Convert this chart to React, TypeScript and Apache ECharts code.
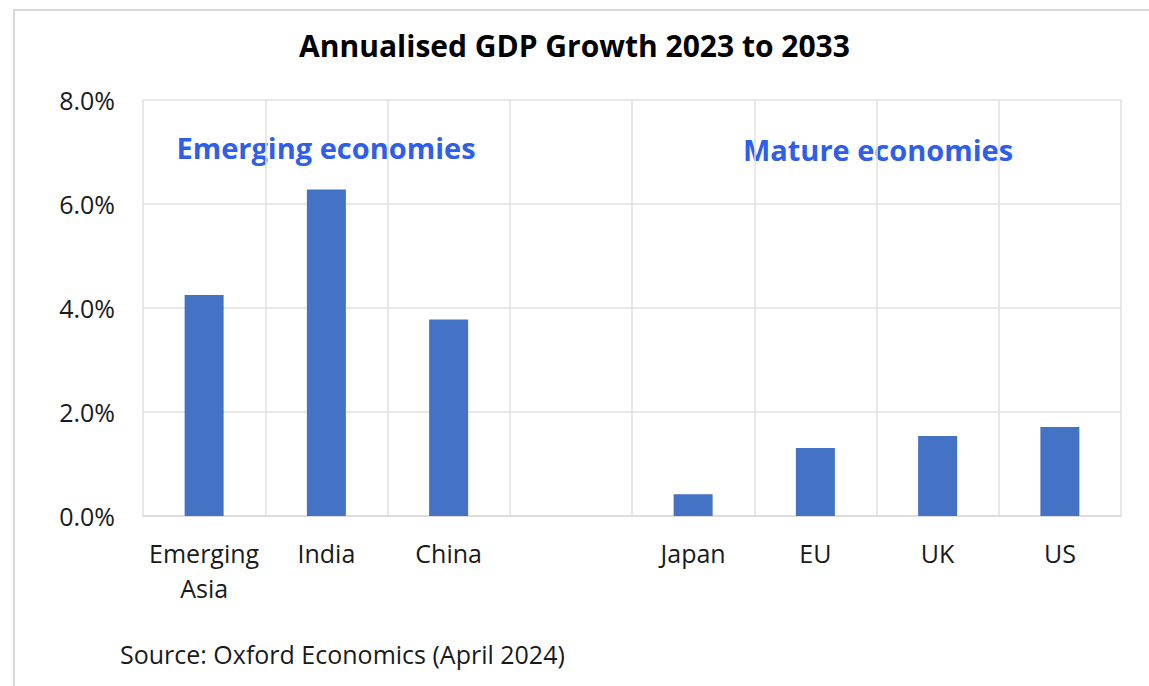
import React, { useEffect, useRef } from "react";
import * as echarts from "echarts";

const categories = ["Emerging\nAsia", "India", "China", "", "Japan", "EU", "UK", "US"];
const growth: (number | null)[] = [4.25, 6.28, 3.78, null, 0.42, 1.31, 1.54, 1.71];
const yTicks = { min: 0, max: 8, interval: 2 };
const title = "Annualised GDP Growth 2023 to 2033";
const groupLabels = ["Emerging economies", "Mature economies"];
const source = "Source: Oxford Economics (April 2024)";

const FONT = "'Open Sans', 'Noto Sans', sans-serif";

export default function App() {
  const ref = useRef<HTMLDivElement>(null);
  useEffect(() => {
    const chart = echarts.init(ref.current!, null, { renderer: "svg" });
    chart.setOption({
      animation: false,
      backgroundColor: "#ffffff",
      textStyle: { fontFamily: FONT },
      title: {
        text: title,
        left: "center",
        top: 25,
        textStyle: { fontFamily: FONT, fontSize: 30, fontWeight: "bold", color: "#000000" },
      },
      grid: { left: 143, right: 28, top: 100, bottom: 170 },
      xAxis: {
        type: "category",
        data: categories,
        axisTick: { show: false },
        axisLine: { lineStyle: { color: "#d9d9d9", width: 1.5 } },
        splitLine: { show: true, lineStyle: { color: "#e0e0e0", width: 1.5 } },
        axisLabel: {
          color: "#1a1a1a",
          fontSize: 25,
          fontFamily: FONT,
          margin: 19,
          lineHeight: 35,
          interval: 0,
        },
      },
      yAxis: {
        type: "value",
        min: yTicks.min,
        max: yTicks.max,
        interval: yTicks.interval,
        axisLine: { show: false },
        axisTick: { show: false },
        splitLine: { lineStyle: { color: "#e0e0e0", width: 1.5 } },
        axisLabel: {
          color: "#1a1a1a",
          fontSize: 25,
          fontFamily: FONT,
          margin: 28,
          formatter: (v: number) => v.toFixed(1) + "%",
        },
      },
      series: [
        {
          type: "bar",
          data: growth,
          barWidth: 39,
          itemStyle: { color: "#4472c4" },
        },
      ],
      graphic: [
        {
          type: "rect",
          shape: { x: 14, y: 10, width: 1200, height: 800 },
          style: { fill: "none", stroke: "#d9d9d9", lineWidth: 2 },
          silent: true,
          z: -1,
        },
        {
          type: "text",
          x: 326,
          y: 147,
          style: {
            text: groupLabels[0],
            fill: "#2f5eea",
            font: `bold 29px ${FONT}`,
            align: "center",
            verticalAlign: "middle",
          },
        },
        {
          type: "text",
          x: 878,
          y: 149,
          style: {
            text: groupLabels[1],
            fill: "#2f5eea",
            font: `bold 29px ${FONT}`,
            align: "center",
            verticalAlign: "middle",
          },
        },
        {
          type: "text",
          x: 120,
          y: 654,
          style: {
            text: source,
            fill: "#1a1a1a",
            font: `25px ${FONT}`,
            align: "left",
            verticalAlign: "middle",
          },
        },
      ],
    });
    return () => chart.dispose();
  }, []);
  return (
    <div
      ref={ref}
      style={{ position: "fixed", left: 0, top: 0, width: 1149, height: 686 }}
    />
  );
}
